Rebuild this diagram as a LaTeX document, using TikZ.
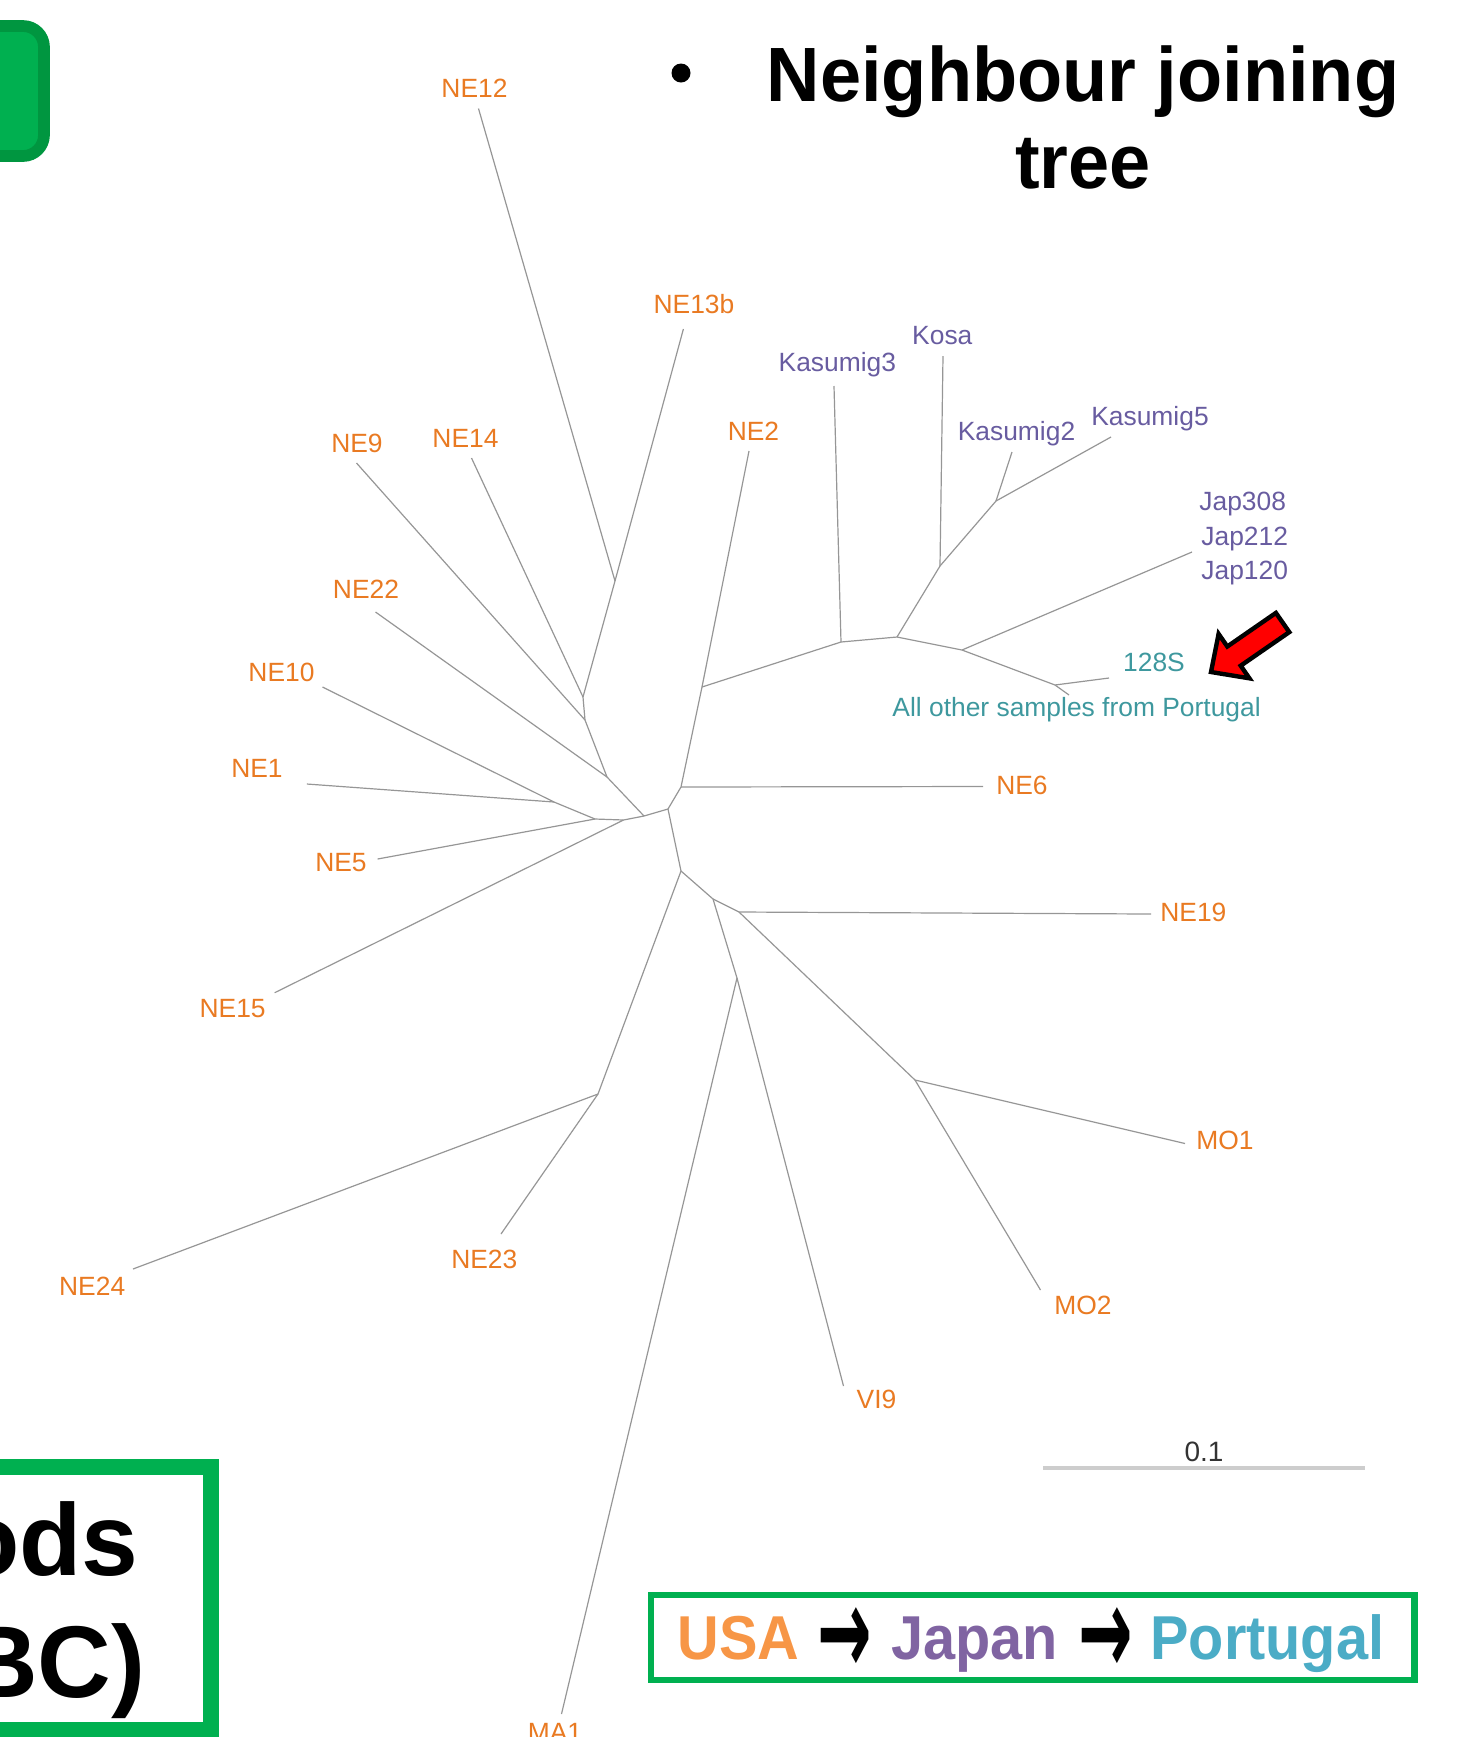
\documentclass[tikz,border=0pt]{standalone}
\usepackage{fontspec}
\setmainfont{Liberation Sans}
\newfontfamily\titlefont[FakeStretch=0.96]{Liberation Sans}
\newfontfamily\legfont[FakeStretch=0.93]{Liberation Sans}
\newfontfamily\arrowfont{DejaVu Sans}
\definecolor{treeline}{RGB}{150,150,150}
\definecolor{usaC}{RGB}{233,122,34}
\definecolor{jpnC}{RGB}{104,92,160}
\definecolor{prtC}{RGB}{62,152,158}
\definecolor{legUSA}{RGB}{247,150,70}
\definecolor{legJPN}{RGB}{128,100,162}
\definecolor{legPRT}{RGB}{75,172,198}
\definecolor{boxgreen}{RGB}{0,176,80}
\definecolor{boxdark}{RGB}{0,150,64}
\definecolor{scalegray}{RGB}{205,205,205}
\definecolor{scaletext}{RGB}{51,51,51}
\newcommand{\legarrow}{{\arrowfont\bfseries\raisebox{-7.5pt}{\scalebox{1.05}[2.0]{→}}}}
\begin{document}
\begin{tikzpicture}[x=0.5pt,y=-0.5pt,
  branch/.style={draw=treeline,line width=0.6pt,line join=round},
  taxon/.style={inner sep=0pt,anchor=base,font=\fontsize{13.2}{16}\selectfont},
  usa/.style={taxon,text=usaC},
  jpn/.style={taxon,text=jpnC},
  prt/.style={taxon,text=prtC},
  bigbold/.style={inner sep=0pt,font=\fontsize{51}{60}\selectfont\bfseries},
  legtext/.style={inner sep=0pt,anchor=base west,font=\legfont\fontsize{31}{36}\selectfont\bfseries}
]
\useasboundingbox (0,0) rectangle (1482,1737);

% ---------- boxes cut by the page edge ----------
\draw[draw=boxdark,fill=boxgreen,line width=5.85pt,rounded corners=10.5pt] (-120,26) rectangle (44,156);
\draw[draw=boxgreen,line width=8pt] (-60,1467) rectangle (211,1730);
\node[bigbold,anchor=base east] (ods) at (139,1575) {ods};
\node[bigbold,anchor=base east] (bc) at (146,1697) {BC)};

% ---------- title ----------
\fill (681,73) circle (4.75pt);
\node[inner sep=0pt,anchor=base,font=\titlefont\fontsize{38.5}{46}\selectfont\bfseries] (title1) at (1083,101) {Neighbour joining};
\node[inner sep=0pt,anchor=base,font=\titlefont\fontsize{38.5}{46}\selectfont\bfseries] (title2) at (1083,188) {tree};

% ---------- tree: internal nodes ----------
\coordinate (C0) at (668,809);
\coordinate (N6) at (681,787);
\coordinate (J1) at (702,687);
\coordinate (K1) at (841,642);
\coordinate (K2) at (897,637);
\coordinate (K3) at (940,566);
\coordinate (K4) at (996,501);
\coordinate (K5) at (962,650);
\coordinate (K6) at (1055,685);
\coordinate (L1) at (644,816);
\coordinate (L2) at (607,777);
\coordinate (L3) at (585,720);
\coordinate (L4) at (583,697);
\coordinate (L5) at (615,581);
\coordinate (L6) at (623.5,820);
\coordinate (L7) at (595,819);
\coordinate (L8) at (554,802);
\coordinate (D1) at (681,871);
\coordinate (D2) at (598,1094);
\coordinate (D3) at (713,899);
\coordinate (D4) at (737,978);
\coordinate (D5) at (739,912);
\coordinate (D6) at (915,1080);
% ---------- tree: leaf ends ----------
\coordinate (eNE2) at (749,451);
\coordinate (eNE6) at (983,786.5);
\coordinate (eKas3) at (834,386);
\coordinate (eKosa) at (943,356);
\coordinate (eKas2) at (1012,452);
\coordinate (eKas5) at (1111,437);
\coordinate (eJap) at (1192,552);
\coordinate (e128) at (1109,678);
\coordinate (eAll) at (1069,695);
\coordinate (eNE22) at (375.5,612);
\coordinate (eNE9) at (356.5,463);
\coordinate (eNE14) at (471.5,458);
\coordinate (eNE12) at (478.5,108.5);
\coordinate (eNE13b) at (683.4,329);
\coordinate (eNE15) at (274.7,992.7);
\coordinate (eNE5) at (377.6,859);
\coordinate (eNE1) at (306.8,784);
\coordinate (eNE10) at (322.5,687);
\coordinate (eNE24) at (133,1269);
\coordinate (eNE23) at (501,1234);
\coordinate (eMA1) at (561.5,1714);
\coordinate (eVI9) at (843.5,1386);
\coordinate (eNE19) at (1151,914);
\coordinate (eMO1) at (1185,1143.5);
\coordinate (eMO2) at (1040.5,1290);

% ---------- tree: branches ----------
\draw[branch] (C0) -- (N6) -- (J1) -- (eNE2);
\draw[branch] (N6) -- (eNE6);
\draw[branch] (J1) -- (K1) -- (K2) -- (K3) -- (K4) -- (eKas5);
\draw[branch] (K1) -- (eKas3);
\draw[branch] (K3) -- (eKosa);
\draw[branch] (K4) -- (eKas2);
\draw[branch] (K2) -- (K5) -- (eJap);
\draw[branch] (K5) -- (K6) -- (e128);
\draw[branch] (K6) -- (eAll);
\draw[branch] (C0) -- (L1) -- (L2) -- (L3) -- (L4) -- (L5) -- (eNE12);
\draw[branch] (L5) -- (eNE13b);
\draw[branch] (L4) -- (eNE14);
\draw[branch] (L3) -- (eNE9);
\draw[branch] (L2) -- (eNE22);
\draw[branch] (L1) -- (L6) -- (L7) -- (L8) -- (eNE10);
\draw[branch] (L6) -- (eNE15);
\draw[branch] (L7) -- (eNE5);
\draw[branch] (L8) -- (eNE1);
\draw[branch] (C0) -- (D1) -- (D2) -- (eNE24);
\draw[branch] (D2) -- (eNE23);
\draw[branch] (D1) -- (D3) -- (D4) -- (eMA1);
\draw[branch] (D4) -- (eVI9);
\draw[branch] (D3) -- (D5) -- (eNE19);
\draw[branch] (D5) -- (D6) -- (eMO1);
\draw[branch] (D6) -- (eMO2);

% ---------- tree: labels ----------
\node[usa] (lNE12) at (474.5,97) {NE12};
\node[usa] (lNE13b) at (694,313) {NE13b};
\node[usa] (lNE14) at (465.5,447) {NE14};
\node[usa] (lNE9) at (357,452) {NE9};
\node[usa] (lNE2) at (753.5,440) {NE2};
\node[usa] (lNE22) at (366,598.5) {NE22};
\node[usa] (lNE10) at (281.5,681) {NE10};
\node[usa] (lNE1) at (257,777) {NE1};
\node[usa] (lNE5) at (341,871.5) {NE5};
\node[usa] (lNE15) at (232.6,1017) {NE15};
\node[usa] (lNE6) at (1022,794) {NE6};
\node[usa] (lNE19) at (1193.4,921.5) {NE19};
\node[usa] (lMO1) at (1225,1149) {MO1};
\node[usa] (lMO2) at (1083,1314) {MO2};
\node[usa] (lVI9) at (876.5,1408.5) {VI9};
\node[usa] (lNE23) at (484.3,1268.5) {NE23};
\node[usa] (lNE24) at (92.2,1295.5) {NE24};
\node[usa] (lMA1) at (555,1741) {MA1};
\node[jpn] (lKas3) at (837.4,371.7) {Kasumig3};
\node[jpn] (lKosa) at (942.3,344.3) {Kosa};
\node[jpn] (lKas2) at (1016.5,440.7) {Kasumig2};
\node[jpn] (lKas5) at (1150,425) {Kasumig5};
\node[jpn,anchor=base west] (lJap308) at (1199,510.7) {Jap308};
\node[jpn,anchor=base west] (lJap212) at (1201,545) {Jap212};
\node[jpn,anchor=base west] (lJap120) at (1201,579.3) {Jap120};
\node[prt] (l128) at (1154,671.7) {128S};
\node[prt] (lAll) at (1076.6,716.7) {All other samples from Portugal};

% ---------- red arrow ----------
\filldraw[fill=red,draw=black,line width=2.2pt,line join=miter]
  (1211,672) -- (1249.4,678.3) -- (1240.7,665.7) -- (1289.3,632.1)
  -- (1275.9,612.9) -- (1227.3,646.5) -- (1218.6,633.9) -- cycle;

% ---------- scale bar ----------
\coordinate (sbL) at (1043,1468);
\coordinate (sbR) at (1365,1468);
\draw[scalegray,line width=1.75pt] (sbL) -- (sbR);
\node[inner sep=0pt,anchor=base,text=scaletext,font=\fontsize{14}{16}\selectfont] (scalelab) at (1204,1461) {0.1};

% ---------- legend ----------
\draw[boxgreen,line width=3.25pt] (651,1595) rectangle (1414.5,1680);
\node[legtext,text=legUSA] (legUSA) at (677,1659) {USA};
\node[legtext,anchor=base] (legArrA) at (845,1659) {\legarrow};
\node[legtext,text=legJPN] (legJPN) at (891,1659) {Japan};
\node[legtext,anchor=base] (legArrB) at (1106,1659) {\legarrow};
\node[legtext,text=legPRT] (legPRT) at (1150,1659) {Portugal};
\end{tikzpicture}
\end{document}
